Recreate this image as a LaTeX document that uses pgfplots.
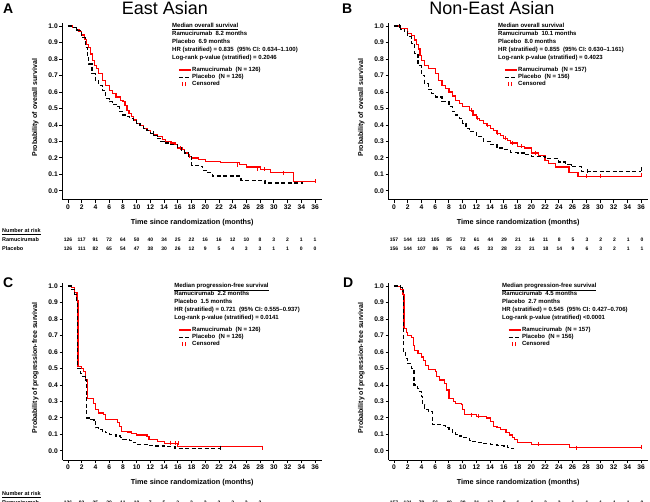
\documentclass[border=0pt]{standalone}
\usepackage{fontspec}
\setmainfont{Liberation Sans}
\usepackage{pgfplots}
\pgfplotsset{compat=1.18}

\definecolor{kmred}{RGB}{255,0,0}

\pgfplotsset{
  km/.style={
    scale only axis, width=259.5pt, height=177.3pt,
    anchor=south west,
    xmin=-0.8, xmax=37, ymin=-0.055, ymax=1.02,
    axis lines=left, axis line style={-, line width=1pt},
    xtick={0,2,...,36},
    ytick={0,0.1,0.2,0.3,0.4,0.5,0.6,0.7,0.8,0.9,1.0},
    tick align=outside, major tick length=3pt,
    tick style={line width=0.9pt, black},
    /pgf/number format/assume math mode=true,
    yticklabel style={inner sep=1.5pt, /pgf/number format/fixed,
      /pgf/number format/fixed zerofill, /pgf/number format/precision=1},
    tick label style={font=\fontsize{6.7}{7}\selectfont\bfseries},
    xticklabel style={inner sep=1.8pt},
    xlabel={Time since randomization (months)},
    xlabel style={at={(axis description cs:0.5,-0.127)}, anchor=center,
      font=\fontsize{7.3}{8}\selectfont\bfseries},
    ylabel style={at={(axis description cs:-0.105,0.52)}, anchor=center,
      font=\fontsize{7}{8}\selectfont\bfseries},
    clip=false,
    legend image code/.code={\draw[##1] (0pt,0pt) -- (12pt,0pt);},
    legend style={draw=none, fill=none, anchor=north west, inner sep=0pt,
      font=\fontsize{6}{6}\selectfont\bfseries,
      nodes={inner sep=0.8pt}, row sep=-0.4pt},
    legend cell align=left,
  },
  rama/.style={kmred, line width=1.2pt, const plot, forget plot},
  plac/.style={black, line width=1.2pt, dash pattern=on 4pt off 2.5pt, const plot, forget plot},
  cens/.style={only marks, mark=|, mark size=2pt, line width=0.6pt, forget plot},
}
\tikzset{note/.style={anchor=north west, align=left, inner sep=0pt,
    font=\fontsize{6}{8}\selectfont\bfseries}}

\newcommand{\riskrow}[4]{%
  \foreach \v [count=\i from 0] in {#4}
    \node[font=\fontsize{5}{6}\selectfont\bfseries, inner sep=0pt] at ({#1pt+#2pt*\i}, #3pt) {\v};}

\newcommand{\kmlegend}[2]{%
  \addlegendimage{kmred, line width=1.2pt}
  \addlegendentry{Ramucirumab\ \ (N = #1)}
  \addlegendimage{black, line width=1.2pt, dash pattern=on 4pt off 2.5pt}
  \addlegendentry{Placebo\ \ (N = #2)}
  \addlegendimage{legend image code/.code={\draw[kmred, line width=0.6pt] (4pt,-2pt)--(4pt,2pt) (6.5pt,-2pt)--(6.5pt,2pt);}}
  \addlegendentry{Censored}}

\begin{document}
\begin{tikzpicture}
\useasboundingbox (0pt,0pt) rectangle (650pt,501pt);

% ---------- A: East Asian, overall survival
\begin{axis}[km, at={(62.5pt,301pt)}, ylabel={Probability of overall survival},
  legend style={at={(axis description cs:0.445,0.755)}}]
\addplot[rama] table {
0 1.0
0.6 0.99
1.2 0.98
1.6 0.965
2.0 0.945
2.4 0.92
2.7 0.89
3.0 0.87
3.3 0.83
3.6 0.79
3.9 0.76
4.1 0.74
4.5 0.71
5.0 0.67
5.5 0.64
6.0 0.61
6.5 0.59
7.0 0.57
7.6 0.55
8.0 0.54
8.3 0.52
8.6 0.49
8.9 0.47
9.2 0.45
9.6 0.43
10.0 0.41
10.5 0.395
11.0 0.38
11.5 0.365
12.0 0.35
12.5 0.34
13.0 0.33
13.8 0.31
14.2 0.30
15.0 0.29
15.6 0.28
16.0 0.26
16.6 0.25
17.0 0.23
17.5 0.21
18.0 0.20
19.0 0.19
20.0 0.18
22.2 0.17
25.0 0.16
26.0 0.145
28.0 0.13
29.5 0.11
32.8 0.055
36.0 0.055
};
\addplot[plac] table {
0 1.0
0.8 0.99
1.4 0.975
2.0 0.93
2.5 0.87
2.8 0.81
3.0 0.77
3.5 0.71
4.0 0.67
4.5 0.64
5.0 0.61
5.5 0.56
6.0 0.54
6.5 0.525
7.0 0.51
7.5 0.48
8.0 0.46
8.5 0.45
9.0 0.44
9.5 0.425
10.0 0.41
10.5 0.395
11.0 0.38
11.5 0.365
12.0 0.35
12.5 0.335
13.0 0.32
13.5 0.30
14.0 0.29
15.0 0.28
16.0 0.26
16.5 0.245
17.0 0.23
17.5 0.21
18.0 0.155
19.0 0.15
19.6 0.125
20.2 0.11
21.0 0.09
25.2 0.065
28.7 0.048
34.3 0.048
};
\addplot[cens, kmred] coordinates {(16.3,0.26) (17.6,0.21) (24.6,0.16) (27.6,0.13) (28.6,0.13) (31.3,0.11) (36,0.06)};
\addplot[cens, black] coordinates {(1.2,0.98) (12.4,0.35)};
\kmlegend{126}{126}
\node[note] at (axis description cs:0.422,1.0) {\underline{Median overall survival}\\
Ramucirumab\ \ 8.2 months\\ Placebo\ \ 6.9 months\\
HR (stratified) = 0.835\ \ (95\% CI: 0.634--1.100)\\
Log-rank p-value (stratified) = 0.2046};
\end{axis}

% ---------- B: Non-East Asian, overall survival
\begin{axis}[km, at={(388.5pt,301pt)}, ylabel={Probability of overall survival},
  legend style={at={(axis description cs:0.445,0.755)}}]
\addplot[rama] table {
0 1.0
1.0 0.985
2.0 0.955
2.5 0.94
3.0 0.915
3.3 0.89
3.6 0.86
3.8 0.82
4.0 0.79
4.5 0.76
5.0 0.74
6.0 0.71
6.5 0.67
7.0 0.64
7.5 0.62
8.0 0.60
8.5 0.575
9.0 0.55
9.5 0.53
10.0 0.51
11.0 0.49
11.5 0.46
12.0 0.44
12.5 0.425
13.0 0.41
13.5 0.395
14.0 0.38
14.5 0.365
15.0 0.35
15.5 0.335
16.0 0.32
16.5 0.305
17.0 0.29
18.0 0.27
19.0 0.26
20.0 0.23
21.0 0.215
22.0 0.185
22.5 0.165
23.5 0.145
25.5 0.11
26.8 0.089
36.0 0.089
};
\addplot[plac] table {
0 1.0
1.0 0.98
1.5 0.965
2.0 0.935
2.5 0.895
3.0 0.835
3.5 0.76
4.0 0.70
4.5 0.65
5.0 0.615
5.5 0.59
6.0 0.57
7.0 0.54
8.0 0.51
8.5 0.48
9.0 0.46
9.5 0.44
10.0 0.41
10.5 0.38
11.0 0.36
12.0 0.33
13.0 0.30
14.0 0.28
15.0 0.26
16.0 0.25
17.0 0.235
18.0 0.23
19.0 0.22
20.0 0.21
22.0 0.195
24.0 0.175
25.0 0.16
25.8 0.15
27.3 0.12
36.0 0.12
};
\addplot[cens, kmred] coordinates {(11.3,0.49) (12.2,0.44) (13.6,0.40) (15.1,0.35) (16.2,0.32) (17.3,0.29) (18.6,0.27) (20.6,0.23) (28,0.089) (30,0.089) (36,0.095)};
\addplot[cens, black] coordinates {(0.7,1.0) (28.2,0.12) (36,0.13)};
\kmlegend{157}{156}
\node[note] at (axis description cs:0.422,1.0) {\underline{Median overall survival}\\
Ramucirumab\ \ 10.1 months\\ Placebo\ \ 8.0 months\\
HR (stratified) = 0.855\ \ (95\% CI: 0.630--1.161)\\
Log-rank p-value (stratified) = 0.4023};
\end{axis}

% ---------- C: East Asian, progression-free survival
\begin{axis}[km, at={(62.5pt,41pt)}, ylabel={Probability of progression-free survival},
  legend style={at={(axis description cs:0.445,0.755)}}]
\addplot[rama] table {
0 1.0
0.5 0.99
1.0 0.96
1.3 0.91
1.45 0.513
2.0 0.50
2.3 0.48
2.6 0.43
2.8 0.32
3.7 0.29
4.0 0.25
4.5 0.23
5.2 0.22
5.5 0.19
7.2 0.17
7.5 0.15
7.8 0.12
8.7 0.115
9.2 0.107
10.0 0.097
11.5 0.087
11.8 0.07
13.0 0.057
14.0 0.047
16.0 0.026
28.3 0.026
};
\addplot[plac] table {
0 1.0
0.5 0.98
1.0 0.95
1.2 0.90
1.35 0.50
1.8 0.47
2.1 0.45
2.5 0.43
2.7 0.20
3.2 0.19
3.8 0.18
4.0 0.14
4.5 0.13
5.0 0.12
5.5 0.11
6.0 0.10
7.0 0.09
7.6 0.08
8.0 0.07
9.0 0.065
9.5 0.05
10.0 0.04
11.5 0.035
12.5 0.03
14.0 0.025
15.6 0.015
22.2 0.015
};
\addplot[cens, kmred] coordinates {(14.9,0.05) (15.6,0.047) (16,0.047) (28.3,0.02)};
\addplot[cens, black] coordinates {(22.2,0.02)};
\kmlegend{126}{126}
\node[note] at (axis description cs:0.43,1.0) {\underline{Median progression-free survival}\\
Ramucirumab\ \ 2.2 months\\ Placebo\ \ 1.5 months\\
HR (stratified) = 0.721\ \ (95\% CI: 0.555--0.937)\\
Log-rank p-value (stratified) = 0.0141};
\end{axis}

% ---------- D: Non-East Asian, progression-free survival
\begin{axis}[km, at={(388.5pt,41pt)}, ylabel={Probability of progression-free survival},
  legend style={at={(axis description cs:0.46,0.755)}}]
\addplot[rama] table {
0 1.0
0.5 0.995
1.0 0.98
1.3 0.95
1.45 0.74
1.8 0.72
2.0 0.70
2.6 0.69
2.8 0.64
3.0 0.61
3.5 0.59
4.0 0.57
4.3 0.55
4.6 0.52
5.0 0.493
6.0 0.48
6.2 0.45
6.6 0.43
7.3 0.41
7.6 0.37
8.0 0.32
8.7 0.30
9.0 0.29
9.8 0.28
10.0 0.25
10.3 0.22
12.0 0.21
13.5 0.20
14.0 0.18
14.5 0.15
15.0 0.14
15.5 0.128
16.3 0.11
16.8 0.097
17.3 0.08
17.6 0.067
18.0 0.05
20.0 0.04
25.6 0.02
36.0 0.02
};
\addplot[plac] table {
0 1.0
1.0 0.99
1.2 0.97
1.4 0.60
1.7 0.56
2.0 0.53
2.6 0.50
2.9 0.40
3.4 0.38
3.7 0.36
4.0 0.33
4.2 0.28
4.5 0.25
5.0 0.24
5.6 0.16
7.0 0.155
7.5 0.14
8.0 0.13
8.5 0.11
9.0 0.10
9.5 0.09
10.0 0.08
11.0 0.065
11.5 0.055
12.0 0.05
13.0 0.045
14.0 0.04
15.0 0.035
16.0 0.03
16.5 0.02
17.0 0.015
17.4 0.01
};
\addplot[cens, kmred] coordinates {(11.2,0.22) (12.3,0.21) (21,0.04) (26.5,0.02) (36,0.025)};
\kmlegend{157}{156}
\node[note] at (axis description cs:0.437,1.0) {\underline{Median progression-free survival}\\
Ramucirumab\ \ 4.5 months\\ Placebo\ \ 2.7 months\\
HR (stratified) = 0.545\ \ (95\% CI: 0.427--0.706)\\
Log-rank p-value (stratified) {\textless}0.0001};
\end{axis}

% ---------- titles and panel letters
\node[anchor=base, font=\fontsize{18}{20}\selectfont] at (165pt,486pt) {East Asian};
\node[anchor=base, font=\fontsize{18}{20}\selectfont] at (492pt,486pt) {Non-East Asian};
\node[anchor=base west, inner sep=0pt, font=\fontsize{14}{16}\selectfont\bfseries] at (3pt,487pt) {A};
\node[anchor=base west, inner sep=0pt, font=\fontsize{14}{16}\selectfont\bfseries] at (342pt,487pt) {B};
\node[anchor=base west, inner sep=0pt, font=\fontsize{14}{16}\selectfont\bfseries] at (3pt,213pt) {C};
\node[anchor=base west, inner sep=0pt, font=\fontsize{14}{16}\selectfont\bfseries] at (343pt,213pt) {D};

% ---------- numbers at risk
\begin{scope}[every node/.append style={font=\fontsize{5.5}{6}\selectfont\bfseries, inner sep=0pt, anchor=west}]
\node at (2pt,269pt) {\underline{Number at risk}};
\node at (2pt,261pt) {Ramucirumab};
\node at (2pt,252pt) {Placebo};
\node at (2pt,6pt) {\underline{Number at risk}};
\node at (2pt,-2pt) {Ramucirumab};
\node at (2pt,-11pt) {Placebo};
\end{scope}
\riskrow{68}{13.722}{261}{126,117,91,72,64,50,40,34,25,22,16,16,12,10,8,3,2,1,1}
\riskrow{68}{13.722}{252}{126,111,82,65,54,47,38,30,26,12,9,5,4,3,3,1,1,0,0}
\riskrow{394}{13.778}{261}{157,144,123,105,85,72,61,44,29,21,16,11,8,5,3,2,2,1,0}
\riskrow{394}{13.778}{252}{156,144,107,86,75,63,45,33,28,23,21,18,14,9,6,3,2,1,1}
\riskrow{68}{13.722}{-2}{126,93,35,20,11,10,7,5,3,3,2,2,2,2,2}
\riskrow{394}{13.778}{-2}{157,131,79,56,40,28,21,17,8,6,4,3,3,1,1,1,1,1,0}
\end{tikzpicture}
\end{document}
